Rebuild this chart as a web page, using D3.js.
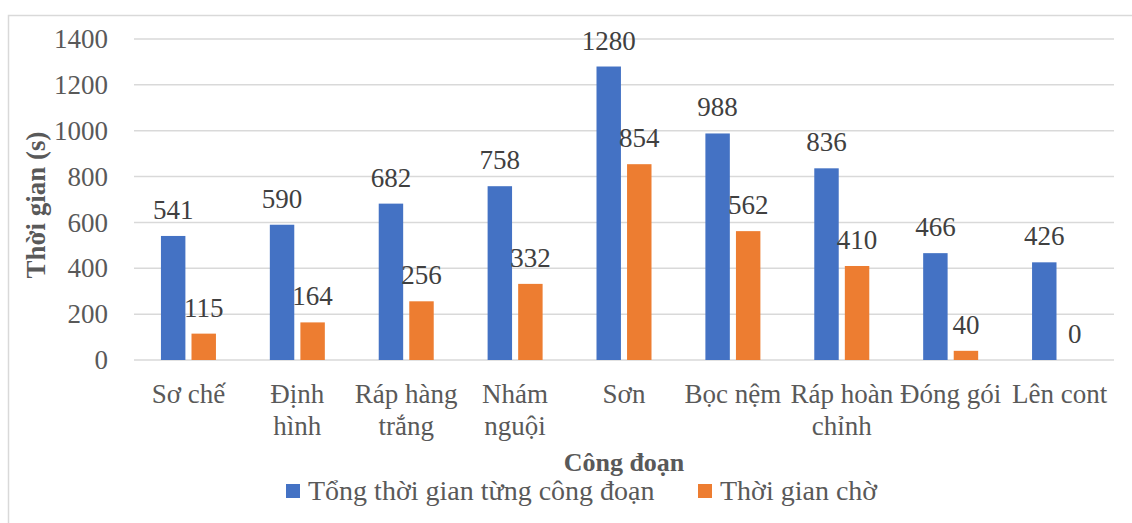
<!DOCTYPE html>
<html>
<head>
<meta charset="utf-8">
<script src="https://cdn.jsdelivr.net/npm/d3@7"></script>
<style>
  body { margin: 0; background: #fff; }
</style>
</head>
<body>
<div id="chart"></div>
<script>
// data
var categories = ["Sơ chế", "Định hình", "Ráp hàng trắng", "Nhám nguội", "Sơn", "Bọc nệm", "Ráp hoàn chỉnh", "Đóng gói", "Lên cont"];
// tick labels, broken into lines the way the picture shows them
var categoryLines = [["Sơ chế"], ["Định", "hình"], ["Ráp hàng", "trắng"], ["Nhám", "nguội"], ["Sơn"], ["Bọc nệm"], ["Ráp hoàn", "chỉnh"], ["Đóng gói"], ["Lên cont"]];
var totalTime = [541, 590, 682, 758, 1280, 988, 836, 466, 426];
var waitTime = [115, 164, 256, 332, 854, 562, 410, 40, 0];
var seriesNames = ["Tổng thời gian từng công đoạn", "Thời gian chờ"];
var yTicks = [0, 200, 400, 600, 800, 1000, 1200, 1400];

var colors = ["#4472C4", "#ED7D31"];
var fontFam = "'Liberation Serif', 'Times New Roman', serif";
var fs = 27;

var W = 1132, H = 523;
var margin = {top: 39, right: 18, bottom: 163, left: 134};
var width = W - margin.left - margin.right;
var height = 360 - margin.top;

var svg = d3.select("#chart")
    .append("svg")
    .attr("width", W)
    .attr("height", H)
    .attr("font-family", fontFam);

// outer border of the chart area
svg.append("rect")
    .attr("x", 8.5).attr("y", 15.5)
    .attr("width", W).attr("height", H)
    .attr("fill", "none")
    .attr("stroke", "#d9d9d9")
    .attr("stroke-width", 1.5);

var g = svg.append("g")
    .attr("transform", "translate(" + margin.left + "," + margin.top + ")");

var x0 = d3.scaleBand()
    .domain(categories)
    .range([0, width]);

var groupW = 55;
var x1 = d3.scaleBand()
    .domain([0, 1])
    .range([(x0.bandwidth() - groupW) / 2, (x0.bandwidth() + groupW) / 2])
    .paddingInner(0.2);

var y = d3.scaleLinear()
    .domain([0, 1400])
    .range([height, 0]);

// gridlines
g.selectAll(".grid")
    .data(yTicks)
    .enter()
    .append("line")
    .attr("x1", 0).attr("x2", width)
    .attr("y1", d => y(d)).attr("y2", d => y(d))
    .attr("stroke", "#d9d9d9")
    .attr("stroke-width", 1.5);

// y axis labels
var yAxis = d3.axisLeft(y).tickValues(yTicks).tickSize(0).tickPadding(26).tickFormat(d3.format("d"));
var yg = g.append("g").call(yAxis).attr("font-family", fontFam);
yg.select(".domain").remove();
yg.selectAll("text")
    .attr("font-size", fs)
    .attr("fill", "#595959");

// bars
var series = [totalTime, waitTime];
series.forEach(function(vals, si) {
    g.selectAll(".bar" + si)
        .data(vals)
        .enter()
        .append("rect")
        .attr("x", (d, i) => x0(categories[i]) + x1(si))
        .attr("y", d => y(d))
        .attr("width", x1.bandwidth())
        .attr("height", d => height - y(d))
        .attr("fill", colors[si]);

    g.selectAll(".lab" + si)
        .data(vals)
        .enter()
        .append("text")
        .attr("x", (d, i) => x0(categories[i]) + x1(si) + x1.bandwidth() / 2)
        .attr("y", d => y(d) - 17)
        .attr("text-anchor", "middle")
        .attr("font-size", fs)
        .attr("fill", "#404040")
        .text(d => d);
});

// category labels
var xg = g.append("g").attr("transform", "translate(0," + height + ")");
categories.forEach(function(c, i) {
    var cx = x0(c) + x0.bandwidth() / 2;
    var t = xg.append("text")
        .attr("x", cx)
        .attr("y", 43)
        .attr("text-anchor", "middle")
        .attr("font-size", fs)
        .attr("fill", "#595959");
    categoryLines[i].forEach(function(l, li) {
        t.append("tspan")
            .attr("x", cx)
            .attr("dy", li === 0 ? 0 : 32)
            .text(l);
    });
});

// axis titles
svg.append("text")
    .attr("x", margin.left + width / 2)
    .attr("y", 471)
    .attr("text-anchor", "middle")
    .attr("font-size", 26)
    .attr("font-weight", "bold")
    .attr("fill", "#595959")
    .text("Công đoạn");

svg.append("text")
    .attr("transform", "translate(45,205) rotate(-90)")
    .attr("text-anchor", "middle")
    .attr("font-size", fs)
    .attr("font-weight", "bold")
    .attr("fill", "#595959")
    .text("Thời gian (s)");

// legend
var legendX = [286, 698];
var leg = svg.selectAll(".legend")
    .data(seriesNames)
    .enter()
    .append("g")
    .attr("transform", (d, i) => "translate(" + legendX[i] + ",484)");
leg.append("rect")
    .attr("width", 14).attr("height", 14)
    .attr("fill", (d, i) => colors[i]);
leg.append("text")
    .attr("x", 22)
    .attr("y", 16)
    .attr("font-size", 28)
    .attr("fill", "#595959")
    .text(d => d);
</script>
</body>
</html>
